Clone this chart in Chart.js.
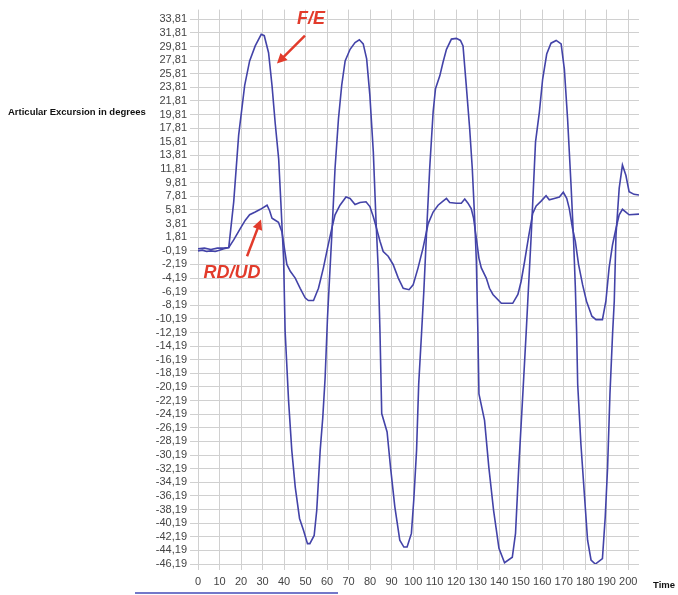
<!DOCTYPE html>
<html>
<head>
<meta charset="utf-8">
<title>Articular Excursion</title>
<script src="https://cdn.jsdelivr.net/npm/chart.js@4/dist/chart.umd.min.js"></script>
<style>
  html, body { margin: 0; padding: 0; background: #fff; }
  #wrap { position: relative; width: 678px; height: 595px; }
  #scrollbar { position: absolute; left: 135px; top: 592px; width: 203px; height: 2px; background: #7378c9; }
</style>
</head>
<body>
<div id="wrap">
  <canvas id="chartExcursion" width="678" height="595"></canvas>
  <div id="scrollbar"></div>
</div>
<script>
// ---- data (time units, degrees) ----
var xTicks = [0, 10, 20, 30, 40, 50, 60, 70, 80, 90, 100, 110, 120, 130, 140, 150, 160, 170, 180, 190, 200];
var yTicks = [-46.19, -44.19, -42.19, -40.19, -38.19, -36.19, -34.19, -32.19, -30.19, -28.19, -26.19,
              -24.19, -22.19, -20.19, -18.19, -16.19, -14.19, -12.19, -10.19, -8.19, -6.19, -4.19,
              -2.19, -0.19, 1.81, 3.81, 5.81, 7.81, 9.81, 11.81, 13.81, 15.81, 17.81, 19.81, 21.81,
              23.81, 25.81, 27.81, 29.81, 31.81, 33.81];

// F/E (flexion / extension)
var feTime = [0, 3, 6, 9, 12, 14.3, 16.6, 18.9, 21.7, 24, 26.6, 29.4, 30.8, 32.8, 34.4, 35.9, 37.5, 38.5,
  39.8, 40.5, 42.1, 43.6, 45.2, 47.2, 49, 50.9, 52, 54, 55.2, 56.8, 58, 59.1, 60.2, 61.1, 62.2, 63.7,
  65.3, 66.8, 68.4, 70.7, 73, 75, 76.8, 78.4, 79.9, 81.5, 82.7, 83.8, 84.6, 85.4, 87.9, 89.5, 91.5,
  93.8, 95.7, 97.2, 99.2, 100.3, 101.6, 102.6, 103.9, 105, 106.2, 107.7, 109.3, 110.4, 112.4, 113.9,
  115.5, 117.8, 120.1, 122, 123.2, 124.7, 126.3, 127.5, 128.6, 129.4, 130.1, 130.6, 133.2, 135.2,
  137.4, 139.9, 142.5, 146.1, 147.6, 149.1, 151, 152.5, 153.3, 154.9, 156.9, 158.7, 160.2, 162.1,
  164.1, 166.5, 168.8, 170.3, 171.8, 173.4, 174.5, 175.4, 176, 176.5, 178, 179.6, 181.1, 182.7,
  184.7, 188, 189.3, 190.4, 191.5, 192.7, 193.5, 194.3, 195.8, 197.3, 198.9, 200.4, 202.7, 205];
var feAngle = [0.1, 0.2, 0.0, 0.2, 0.2, 0.3, 7.0, 16.8, 24.1, 27.7, 29.9, 31.6, 31.4, 28.9, 24.1, 18.5, 13.3, 7.0,
  -1.5, -12, -22.2, -29.5, -34.9, -39.5, -41.2, -43.2, -43.2, -42, -38.3, -29.5, -24.7, -18.8, -10, -4.5, 2.1, 11.9,
  19.2, 24.1, 27.7, 29.4, 30.4, 30.8, 30.2, 28.0, 22.6, 14.3, 4.6, -3, -12.2, -24.1, -26.8, -32.0, -37.8,
  -42.7, -43.7, -43.7, -41.7, -36.8, -29.5, -19.7, -12.4, -6, 2.2, 11.9, 20.2, 23.6, 25.5, 27.5,
  29.4, 30.9, 31.0, 30.7, 29.9, 24.1, 17.7, 11.9, 4.6, -1.8, -12, -21.2, -25.1, -32,
  -38.3, -43.9, -46.0, -45.2, -41.7, -32, -21.2, -12.5, -7.6, 2.1, 15.8, 20.2, 25.0, 28.7,
  30.3, 30.7, 30.2, 26.5, 19.2, 9.5, 2.1, -5.5, -12, -19.8, -28.6, -35.9, -42.7, -45.6,
  -46.2, -45.4, -39.3, -32, -21.2, -12.5, -7.6, 2.1, 9.0, 12.4, 10.9, 8.5, 8.1, 8.0];

// RD/UD (radial / ulnar deviation)
var rdTime = [0, 2, 4, 6, 8, 10, 12, 14.3, 16.6, 19.7, 22, 24, 26.6, 29, 32.1, 33.3, 34.4, 35.9, 37.4, 39,
  40.1, 41.3, 42.9, 45.2, 47.5, 49.8, 51.3, 53.7, 56, 58.3, 60.2, 62.2, 63.7, 66, 68.8, 70.7, 73, 75.3,
  78.1, 79.9, 81.5, 83, 84.6, 86.1, 88.4, 90.7, 93.1, 95.4, 98.1, 100, 102.3, 104.6, 107, 109.3, 111.6,
  113.9, 115.5, 117, 120.1, 122.4, 124, 125.5, 127, 128.1, 129.4, 130.6, 131.7, 134, 135.5, 137.1, 141,
  146.3, 148.7, 150.2, 151.8, 153.8, 155.6, 157.2, 159.5, 161.8, 163.3, 165.6, 168, 169.8, 171.4, 172.6,
  174.1, 175.4, 176.9, 178.8, 180.6, 183.1, 185, 188, 189.6, 191.1, 192.7, 194.3, 195.8, 197.3, 198.9,
  200.4, 205];
var rdAngle = [-0.2, -0.1, -0.3, -0.2, -0.3, -0.1, 0.1, 0.3, 1.4, 3.1, 4.3, 5.1, 5.5, 5.9, 6.5, 5.7, 4.6, 4.3, 4.0, 2.6,
  0.3, -2.2, -3.2, -4.2, -5.7, -7.1, -7.5, -7.5, -5.7, -2.7, 0.2, 3.1, 5.1, 6.5, 7.7, 7.5, 6.6, 6.9,
  7.0, 6.3, 4.8, 3.1, 1.2, -0.3, -1.0, -2.2, -4.2, -5.7, -5.9, -5.2, -2.7, 0.2, 3.8, 5.5, 6.5,
  7.1, 7.5, 6.9, 6.8, 6.8, 7.4, 6.8, 6.0, 4.6, 1.6, -1.3, -2.7, -4.2, -5.7, -6.6, -7.9,
  -7.9, -6.6, -4.7, -1.8, 2.1, 5.3, 6.4, 7.1, 7.9, 7.3, 7.5, 7.7, 8.4, 7.5, 6.0,
  3.1, 1.2, -2.2, -5.2, -7.6, -9.8, -10.3, -10.3, -7.6, -2.7, 0.7, 3.1, 5.1, 5.9, 5.5,
  5.1, 5.2];

var lineColor = '#4343a8';
var noteColor = '#e23b2b';

function toPoints(times, values) {
  return times.map(function(t, i) { return { x: t, y: values[i] }; });
}

// text annotations placed in data coordinates
var notes = [
  { text: 'F/E', x: 52.5, y: 33.9, from: [49.7, 31.4], to: [36.7, 27.3] },
  { text: 'RD/UD', x: 15.8, y: -3.4, from: [22.8, -1.0], to: [29.3, 4.4] }
];

var labelsPlugin = {
  id: 'labelsPlugin',
  afterDraw: function(chart) {
    var ctx = chart.ctx;
    var xs = chart.scales.x, ys = chart.scales.y;
    ctx.save();

    // axis titles
    ctx.fillStyle = '#111';
    ctx.font = 'bold 9.5px "Liberation Sans", Arial, sans-serif';
    ctx.textBaseline = 'middle';
    ctx.textAlign = 'left';
    ctx.fillText('Articular Excursion in degrees', 8, 112);
    ctx.font = 'bold 9.5px "Liberation Sans", Arial, sans-serif';
    ctx.fillText('Time', 653, 585);

    // red notes with arrows
    notes.forEach(function(n) {
      ctx.fillStyle = noteColor;
      ctx.strokeStyle = noteColor;
      ctx.font = 'italic bold 18px "Liberation Sans", Arial, sans-serif';
      ctx.textAlign = 'center';
      ctx.fillText(n.text, xs.getPixelForValue(n.x), ys.getPixelForValue(n.y));

      var x1 = xs.getPixelForValue(n.from[0]), y1 = ys.getPixelForValue(n.from[1]);
      var x2 = xs.getPixelForValue(n.to[0]), y2 = ys.getPixelForValue(n.to[1]);
      var ang = Math.atan2(y2 - y1, x2 - x1);
      ctx.lineWidth = 2.5;
      ctx.beginPath();
      ctx.moveTo(x1, y1);
      ctx.lineTo(x2 - 6 * Math.cos(ang), y2 - 6 * Math.sin(ang));
      ctx.stroke();
      ctx.beginPath();
      ctx.moveTo(x2, y2);
      ctx.lineTo(x2 - 10 * Math.cos(ang) + 5 * Math.sin(ang), y2 - 10 * Math.sin(ang) - 5 * Math.cos(ang));
      ctx.lineTo(x2 - 10 * Math.cos(ang) - 5 * Math.sin(ang), y2 - 10 * Math.sin(ang) + 5 * Math.cos(ang));
      ctx.closePath();
      ctx.fill();
    });
    ctx.restore();
  }
};

new Chart(document.getElementById('chartExcursion'), {
  type: 'line',
  data: {
    datasets: [{
      label: 'F/E',
      data: toPoints(feTime, feAngle),
      borderColor: lineColor,
      borderWidth: 1.6,
      pointRadius: 0,
      tension: 0,
      fill: false
    }, {
      label: 'RD/UD',
      data: toPoints(rdTime, rdAngle),
      borderColor: lineColor,
      borderWidth: 1.6,
      pointRadius: 0,
      tension: 0,
      fill: false
    }]
  },
  options: {
    responsive: false,
    animation: false,
    devicePixelRatio: 1,
    layout: { padding: { top: 7, right: 39, bottom: 0, left: 0 } },
    plugins: {
      legend: { display: false },
      tooltip: { enabled: false }
    },
    scales: {
      x: {
        type: 'linear',
        min: 0,
        max: 205,
        afterBuildTicks: function(scale) {
          scale.ticks = xTicks.map(function(v) { return { value: v }; });
        },
        afterFit: function(scale) { scale.height = 31; },
        grid: { color: '#d0d0d0', lineWidth: 1, tickLength: 6 },
        border: { display: false },
        ticks: {
          autoSkip: false,
          maxRotation: 0,
          padding: 5,
          color: '#444',
          font: { family: '"Liberation Sans", Arial, sans-serif', size: 11 }
        }
      },
      y: {
        min: -46.19,
        max: 35.23,
        afterBuildTicks: function(scale) {
          scale.ticks = yTicks.map(function(v) { return { value: v }; });
        },
        afterFit: function(scale) { scale.width = 198; },
        grid: { color: '#d0d0d0', lineWidth: 1, tickLength: 8 },
        border: { display: false },
        ticks: {
          autoSkip: false,
          padding: 3,
          color: '#444',
          font: { family: '"Liberation Sans", Arial, sans-serif', size: 11 },
          callback: function(v) { return v.toFixed(2).replace('.', ','); }
        }
      }
    }
  },
  plugins: [labelsPlugin]
});
</script>
</body>
</html>
